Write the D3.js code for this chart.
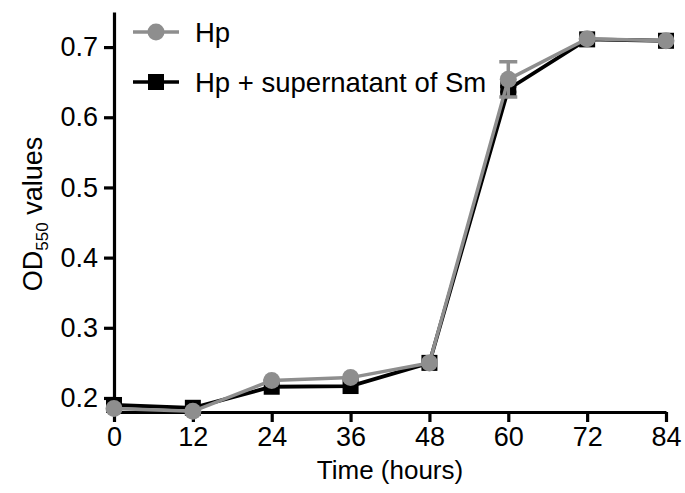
<!DOCTYPE html>
<html>
<head>
<meta charset="utf-8">
<script src="https://cdn.jsdelivr.net/npm/d3@7"></script>
<style>
  body { margin: 0; background: #fff; }
  text { font-family: "Liberation Sans", Arial, sans-serif; fill: #000; }
</style>
</head>
<body>
<div id="chart"></div>
<script>
// data
var hours = [0, 12, 24, 36, 48, 60, 72, 84];
var hpValues = [0.185, 0.181, 0.225, 0.229, 0.250, 0.654, 0.712, 0.709];
var hpErr = [0, 0, 0, 0, 0, 0.025, 0, 0];
var smValues = [0.190, 0.186, 0.216, 0.217, 0.250, 0.640, 0.711, 0.709];
var smErr = [0, 0, 0, 0, 0, 0.004, 0, 0];
var yTicks = [0.2, 0.3, 0.4, 0.5, 0.6, 0.7];
var seriesNames = ["Hp", "Hp + supernatant of Sm"];

var width = 685, height = 493;
var margin = {top: 12, right: 19, bottom: 81, left: 114};

var svg = d3.select("#chart")
    .append("svg")
    .attr("width", width)
    .attr("height", height);

var x = d3.scaleLinear()
    .domain([0, 84])
    .range([margin.left, width - margin.right]);

var y = d3.scaleLinear()
    .domain([0.18, 0.75])
    .range([height - margin.bottom, margin.top]);

// x axis
var xAxis = svg.append("g")
    .attr("transform", "translate(0," + y(0.18) + ")")
    .call(d3.axisBottom(x).tickValues(hours).tickSize(10).tickSizeOuter(0).tickPadding(5));
xAxis.selectAll("line, path").attr("stroke", "#000").attr("stroke-width", 3.2);
xAxis.selectAll("text").style("font-size", "27px");

// y axis
var yAxis = svg.append("g")
    .attr("transform", "translate(" + x(0) + ",0)")
    .call(d3.axisLeft(y).tickValues(yTicks).tickSize(10).tickSizeOuter(0).tickPadding(6)
        .tickFormat(d3.format(".1f")));
yAxis.selectAll("line, path").attr("stroke", "#000").attr("stroke-width", 3.2);
yAxis.selectAll("text").style("font-size", "27px");

// axis titles
svg.append("text")
    .attr("x", 390)
    .attr("y", 479)
    .attr("text-anchor", "middle")
    .style("font-size", "26px")
    .text("Time (hours)");

var yTitle = svg.append("text")
    .attr("transform", "translate(42,214) rotate(-90)")
    .attr("text-anchor", "middle")
    .style("font-size", "27px");
yTitle.append("tspan").text("OD");
yTitle.append("tspan").attr("dy", 6).style("font-size", "17px").text("550");
yTitle.append("tspan").attr("dy", -6).text(" values");

var line = d3.line()
    .x(function(d, i) { return x(hours[i]); })
    .y(function(d) { return y(d); });

var grey = "#8e8e8e";

// error bar path with caps
function errPath(i, vals, errs, cap) {
    var cx = x(hours[i]), t = y(vals[i] + errs[i]), b = y(vals[i] - errs[i]);
    return "M" + (cx - cap) + "," + t + "H" + (cx + cap) +
        "M" + cx + "," + t + "V" + b +
        "M" + (cx - cap) + "," + b + "H" + (cx + cap);
}

// Hp + supernatant (black, drawn underneath)
svg.append("path")
    .datum(smValues)
    .attr("d", line)
    .attr("fill", "none")
    .attr("stroke", "#000")
    .attr("stroke-width", 3.8);

svg.selectAll("smErr")
    .data(d3.range(hours.length).filter(function(i) { return smErr[i] > 0; }))
    .enter()
    .append("path")
    .attr("d", function(i) { return errPath(i, smValues, smErr, 8); })
    .attr("fill", "none")
    .attr("stroke", "#000")
    .attr("stroke-width", 3);

svg.selectAll("smDots")
    .data(smValues)
    .enter()
    .append("rect")
    .attr("x", function(d, i) { return x(hours[i]) - 8; })
    .attr("y", function(d) { return y(d) - 8; })
    .attr("width", 16)
    .attr("height", 16)
    .attr("fill", "#000");

// Hp (grey, on top)
svg.append("path")
    .datum(hpValues)
    .attr("d", line)
    .attr("fill", "none")
    .attr("stroke", grey)
    .attr("stroke-width", 3.5);

svg.selectAll("hpErr")
    .data(d3.range(hours.length).filter(function(i) { return hpErr[i] > 0; }))
    .enter()
    .append("path")
    .attr("d", function(i) { return errPath(i, hpValues, hpErr, 9); })
    .attr("fill", "none")
    .attr("stroke", grey)
    .attr("stroke-width", 3.5);

svg.selectAll("hpDots")
    .data(hpValues)
    .enter()
    .append("circle")
    .attr("cx", function(d, i) { return x(hours[i]); })
    .attr("cy", function(d) { return y(d); })
    .attr("r", 8.5)
    .attr("fill", grey);

// legend
var legend = svg.selectAll("legendRow")
    .data(seriesNames)
    .enter()
    .append("g")
    .attr("transform", function(d, i) { return "translate(0," + (32 + i * 50) + ")"; });

legend.append("line")
    .attr("x1", 133).attr("x2", 179)
    .attr("stroke", function(d, i) { return i == 0 ? grey : "#000"; })
    .attr("stroke-width", 3.5);

legend.filter(function(d, i) { return i == 0; })
    .append("circle")
    .attr("cx", 156).attr("r", 8.5)
    .attr("fill", grey);

legend.filter(function(d, i) { return i == 1; })
    .append("rect")
    .attr("x", 148).attr("y", -8)
    .attr("width", 16).attr("height", 16)
    .attr("fill", "#000");

legend.append("text")
    .attr("x", 195)
    .attr("dy", "0.36em")
    .style("font-size", "27.5px")
    .text(function(d) { return d; });
</script>
</body>
</html>
